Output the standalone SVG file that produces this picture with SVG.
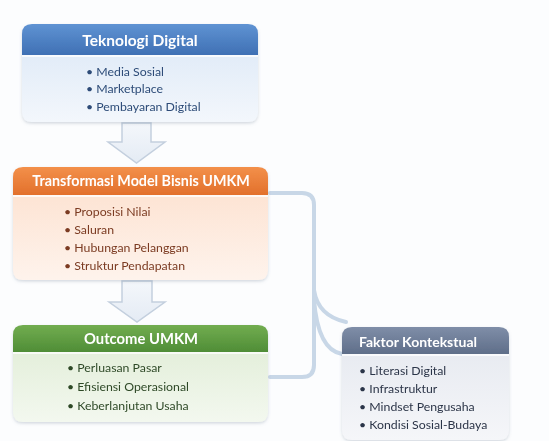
<svg xmlns="http://www.w3.org/2000/svg" width="549" height="441" viewBox="0 0 549 441">
  <defs>
    <linearGradient id="hdBlue" x1="0" y1="0" x2="0" y2="1"><stop offset="0" stop-color="#5f93d3"/><stop offset="1" stop-color="#3f70b4"/></linearGradient>
    <linearGradient id="hdOrange" x1="0" y1="0" x2="0" y2="1"><stop offset="0" stop-color="#f3904a"/><stop offset="1" stop-color="#e2702c"/></linearGradient>
    <linearGradient id="hdGreen" x1="0" y1="0" x2="0" y2="1"><stop offset="0" stop-color="#72ad50"/><stop offset="1" stop-color="#4f8d36"/></linearGradient>
    <linearGradient id="hdGray" x1="0" y1="0" x2="0" y2="1"><stop offset="0" stop-color="#7f8ea8"/><stop offset="1" stop-color="#5f6e89"/></linearGradient>
    <linearGradient id="bdBlue" x1="0" y1="0" x2="0" y2="1"><stop offset="0" stop-color="#e2ecf8"/><stop offset="1" stop-color="#f3f7fc"/></linearGradient>
    <linearGradient id="bdOrange" x1="0" y1="0" x2="0" y2="1"><stop offset="0" stop-color="#fde4d4"/><stop offset="1" stop-color="#fef3ec"/></linearGradient>
    <linearGradient id="bdGreen" x1="0" y1="0" x2="0" y2="1"><stop offset="0" stop-color="#e4efdb"/><stop offset="1" stop-color="#f3f8ef"/></linearGradient>
    <linearGradient id="bdGray" x1="0" y1="0" x2="0" y2="1"><stop offset="0" stop-color="#e8ebf1"/><stop offset="1" stop-color="#f5f6f9"/></linearGradient>
    <linearGradient id="arrowFill" x1="0" y1="0" x2="0" y2="1"><stop offset="0" stop-color="#f4f7fb"/><stop offset="1" stop-color="#e4ebf4"/></linearGradient>
    <filter id="shadow" x="-10%" y="-10%" width="120%" height="130%">
      <feDropShadow dx="0" dy="1.5" stdDeviation="1.8" flood-color="#6b7a90" flood-opacity="0.28"/>
    </filter>
  </defs>
  <style>
    .hd { font-family: Lato, "Open Sans", sans-serif; font-weight: 700; font-size: 14px; fill: #ffffff; }
    .it { font-family: Lato, "Open Sans", sans-serif; font-size: 12.3px; }
    .blue { fill: #2d4c78; }
    .orange { fill: #7b3b22; }
    .green { fill: #2f4a28; }
    .gray { fill: #2c3548; }
    .conn { fill: none; stroke: #c8d7e7; stroke-width: 4; stroke-linecap: round; stroke-linejoin: round; }
    .blk { fill: url(#arrowFill); stroke: #c3cfde; stroke-width: 1.5; }
  </style>
  <rect width="549" height="441" fill="#fcfdfe"/>

  <!-- connectors -->
  <g id="connectors">
    <path class="conn" d="M270 193 H302 Q314 193 314 205 V365 Q314 377 302 377 H270"/>
    <path class="conn" d="M314 290 Q318 316 346 322"/>
    <path class="conn" d="M314 300 Q318 350 342 354"/>
    <path class="blk" d="M122 123 H151 V142 H165 L136.5 163 L108 142 H122 Z"/>
    <path class="blk" d="M122 281 H152 V302 H165 L137 322 L109 302 H122 Z"/>
  </g>

  <!-- Teknologi Digital -->
  <g id="teknologi-digital" filter="url(#shadow)">
    <path d="M22 55 H258 V112 Q258 122 248 122 H32 Q22 122 22 112 Z" fill="url(#bdBlue)"/>
    <path d="M22 55 V34 Q22 24 32 24 H248 Q258 24 258 34 V55 Z" fill="url(#hdBlue)"/>
    <line x1="22" y1="56" x2="258" y2="56" stroke="#ffffff" stroke-width="1.5"/>
    <text class="hd" x="140" y="46" text-anchor="middle" style="font-size:15.5px">Teknologi Digital</text>
    <text class="it blue" x="86" y="76">• Media Sosial</text>
    <text class="it blue" x="86" y="93">• Marketplace</text>
    <text class="it blue" x="86" y="111">• Pembayaran Digital</text>
  </g>

  <!-- Transformasi Model Bisnis UMKM -->
  <g id="transformasi" filter="url(#shadow)">
    <path d="M13 195 H268 V270 Q268 280 258 280 H23 Q13 280 13 270 Z" fill="url(#bdOrange)"/>
    <path d="M13 195 V177 Q13 167 23 167 H258 Q268 167 268 177 V195 Z" fill="url(#hdOrange)"/>
    <line x1="13" y1="196" x2="268" y2="196" stroke="#ffffff" stroke-width="1.5"/>
    <text class="hd" x="141" y="186" text-anchor="middle" style="font-size:14.3px">Transformasi Model Bisnis UMKM</text>
    <text class="it orange" x="64" y="216">• Proposisi Nilai</text>
    <text class="it orange" x="64" y="234">• Saluran</text>
    <text class="it orange" x="64" y="252">• Hubungan Pelanggan</text>
    <text class="it orange" x="64" y="270">• Struktur Pendapatan</text>
  </g>

  <!-- Outcome UMKM -->
  <g id="outcome" filter="url(#shadow)">
    <path d="M13 352 H268 V412 Q268 422 258 422 H23 Q13 422 13 412 Z" fill="url(#bdGreen)"/>
    <path d="M13 352 V335 Q13 325 23 325 H258 Q268 325 268 335 V352 Z" fill="url(#hdGreen)"/>
    <line x1="13" y1="353" x2="268" y2="353" stroke="#ffffff" stroke-width="1.5"/>
    <text class="hd" x="141" y="344" text-anchor="middle" style="font-size:14.8px">Outcome UMKM</text>
    <text class="it green" x="67" y="372">• Perluasan Pasar</text>
    <text class="it green" x="67" y="391">• Efisiensi Operasional</text>
    <text class="it green" x="67" y="410">• Keberlanjutan Usaha</text>
  </g>

  <!-- Faktor Kontekstual -->
  <g id="faktor-kontekstual" filter="url(#shadow)">
    <path d="M342 354 H509 V430 Q509 440 499 440 H352 Q342 440 342 430 Z" fill="url(#bdGray)"/>
    <path d="M342 354 V337 Q342 327 352 327 H499 Q509 327 509 337 V354 Z" fill="url(#hdGray)"/>
    <line x1="342" y1="355" x2="509" y2="355" stroke="#ffffff" stroke-width="1.5"/>
    <text class="hd" x="359" y="347">Faktor Kontekstual</text>
    <text class="it gray" x="359" y="375">• Literasi Digital</text>
    <text class="it gray" x="359" y="393">• Infrastruktur</text>
    <text class="it gray" x="359" y="411">• Mindset Pengusaha</text>
    <text class="it gray" x="359" y="429">• Kondisi Sosial-Budaya</text>
  </g>
</svg>
